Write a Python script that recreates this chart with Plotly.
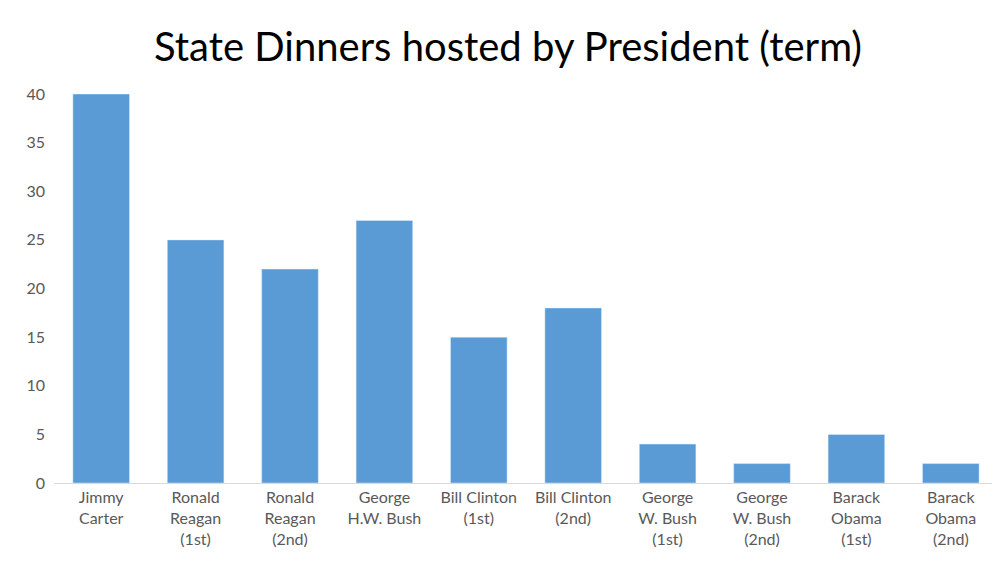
import plotly.graph_objects as go

categories = ["Jimmy<br>Carter", "Ronald<br>Reagan<br>(1st)", "Ronald<br>Reagan<br>(2nd)", "George<br>H.W. Bush",
              "Bill Clinton<br>(1st)", "Bill Clinton<br>(2nd)", "George<br>W. Bush<br>(1st)", "George<br>W. Bush<br>(2nd)",
              "Barack<br>Obama<br>(1st)", "Barack<br>Obama<br>(2nd)"]
values = [40, 25, 22, 27, 15, 18, 4, 2, 5, 2]
y_ticks = [0, 5, 10, 15, 20, 25, 30, 35, 40]

fig = go.Figure(go.Bar(x=categories, y=values, marker_color="#5B9BD5", width=0.6))
fig.update_layout(
    width=1000, height=563, plot_bgcolor="white", paper_bgcolor="white",
    margin=dict(l=46, r=10, t=86, b=88, autoexpand=False),
    title=dict(text="State Dinners hosted by President (term)", x=0.5, xanchor="center",
               y=0.93, yanchor="middle", font=dict(family="Lato", size=40, color="#000")),
    font=dict(family="Lato", size=16, color="#595959"),
    showlegend=False,
)
fig.update_xaxes(automargin=False, showline=True, linecolor="#D9D9D9", linewidth=1, ticks="", tickfont=dict(size=16))
fig.update_yaxes(automargin=False, range=[0, 40], tickvals=y_ticks, showgrid=False, zeroline=False, showline=False,
                 tickfont=dict(size=16), ticklabelstandoff=8)
fig.write_html("out.html")
